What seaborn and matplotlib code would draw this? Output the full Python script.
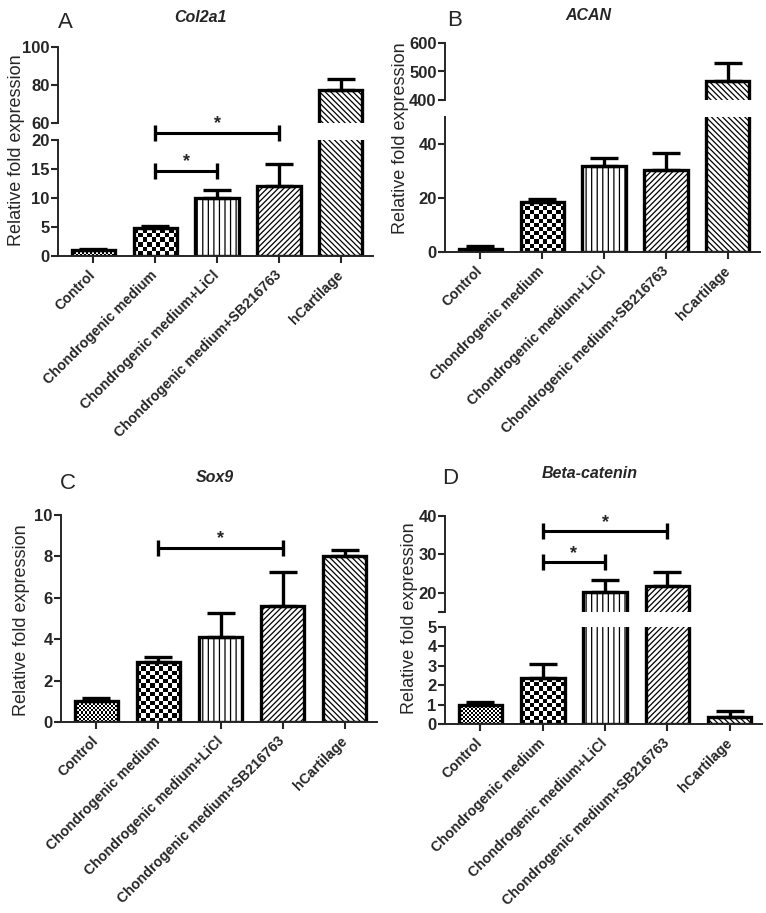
import numpy as np
import matplotlib
matplotlib.use("Agg")
import matplotlib.pyplot as plt
import seaborn as sns
import pandas as pd

# ---------------- data ----------------
categories = ["Control", "Chondrogenic medium", "Chondrogenic medium+LiCl",
              "Chondrogenic medium+SB216763", "hCartilage"]

col2a1_mean = [1.0, 4.8, 10.0, 12.0, 77.4]
col2a1_err = [0.2, 0.4, 1.4, 3.9, 5.8]

acan_mean = [1.2, 18.5, 32.0, 30.3, 468.0]
acan_err = [1.0, 1.0, 2.9, 6.2, 63.0]

sox9_mean = [1.0, 2.88, 4.12, 5.6, 8.0]
sox9_err = [0.14, 0.25, 1.13, 1.66, 0.3]

bcat_mean = [1.0, 2.35, 20.3, 21.8, 0.38]
bcat_err = [0.14, 0.74, 3.1, 3.5, 0.29]

# significance comparisons: (group i, group j, height)
col2a1_sig = [(1, 2, 14.7), (1, 3, 21.2)]
sox9_sig = [(1, 3, 8.4)]
bcat_sig = [(1, 2, 27.9), (1, 3, 36.0)]

fills = ["checker_fine", "checker", "|||", "//////", "\\\\\\\\\\\\"]

# ---------------- style ----------------
sns.set_style("ticks")
plt.rcParams["font.family"] = ["Liberation Sans", "DejaVu Sans"]
plt.rcParams["hatch.linewidth"] = 0.9
plt.rcParams["axes.linewidth"] = 1.4

W, H = 766, 913
fig = plt.figure(figsize=(W / 100, H / 100), dpi=100)


def axpx(left, right, top, bottom):
    return fig.add_axes([left / W, 1 - bottom / H, (right - left) / W, (bottom - top) / H])


def checker(ax, p, cell_px):
    ylo, yhi = ax.get_ylim()
    x0 = p.get_x()
    x1 = x0 + p.get_width()
    y0 = max(p.get_y(), ylo)
    y1 = min(p.get_y() + p.get_height(), yhi)
    if y1 <= y0:
        return
    d0 = ax.transData.transform((x0, y0))
    d1 = ax.transData.transform((x1, y1))
    nx = max(1, int(round((d1[0] - d0[0]) / cell_px)))
    ny = max(1, int(round((d1[1] - d0[1]) / cell_px)))
    img = np.add.outer(np.arange(ny), np.arange(nx)) % 2
    im = ax.imshow(img, cmap="gray", vmin=0, vmax=1, extent=[x0, x1, y0, y1],
                   origin="upper", interpolation="nearest", aspect="auto", zorder=0.9)
    im.set_clip_path(p)


def draw(ax, means, errs, ylim, yticks, ytlabels=None, bottom=True, sigs=()):
    df = pd.DataFrame({"group": categories, "value": means})
    sns.barplot(data=df, x="group", y="value", order=categories, ax=ax,
                color="white", edgecolor="black", linewidth=2.4, width=0.7,
                errorbar=None, saturation=1)
    ax.set_xlim(-0.57, 4.52)
    ax.set_ylim(*ylim)
    bars = list(ax.patches)[:len(categories)]
    centers = [p.get_x() + p.get_width() / 2 for p in bars]
    for p, f in zip(bars, fills):
        p.set_zorder(2)
        if f == "checker":
            p.set_facecolor("none")
            checker(ax, p, 4.3)
        elif f == "checker_fine":
            p.set_facecolor("none")
            checker(ax, p, 2.0)
        else:
            p.set_hatch(f)
    ax.errorbar(centers, means, yerr=[np.zeros(len(means)), errs], fmt="none",
                ecolor="black", elinewidth=2.4, capsize=10, capthick=2.4, zorder=3)
    ax.set_xlim(-0.57, 4.52)
    ax.set_ylim(*ylim)
    ax.set_yticks(yticks)
    if ytlabels is not None:
        ax.set_yticklabels(ytlabels)
    ax.tick_params(axis="y", direction="out", length=5, width=1.5, labelsize=12, pad=1)
    for lab in ax.get_yticklabels():
        lab.set_fontweight("bold")
    sns.despine(ax=ax, top=True, right=True, bottom=not bottom)
    ax.set_ylabel("")
    ax.set_xlabel("")
    if bottom:
        ax.tick_params(axis="x", direction="out", length=5, width=1.5, pad=7)
        ax.set_xticks(centers)
        ax.set_xticklabels(categories, rotation=45, ha="right", rotation_mode="anchor",
                           fontsize=10.2, fontweight="bold", va="center")
    else:
        ax.set_xticks([])
    for i, j, y in sigs:
        ax.plot([centers[i], centers[j]], [y, y], color="black", lw=2.2,
                marker="|", markersize=12, mew=2.4, clip_on=False, zorder=5)
        ax.annotate("*", xy=((centers[i] + centers[j]) / 2, y), xytext=(0, 0.5),
                    textcoords="offset points", ha="center", va="bottom",
                    fontsize=13, fontweight="bold", annotation_clip=False)
    ax.patch.set_alpha(0)


# Panel A (Col2a1) broken axis
a_up = axpx(58, 373, 47, 123)
a_lo = axpx(58, 373, 140, 256)
draw(a_up, col2a1_mean, col2a1_err, (60, 100), [60, 80, 100], bottom=False)
draw(a_lo, col2a1_mean, col2a1_err, (0, 20), [0, 5, 10, 15, 20], sigs=col2a1_sig)

# Panel B (ACAN) broken axis
b_up = axpx(445, 760, 43, 100)
b_lo = axpx(445, 760, 117, 252)
draw(b_up, acan_mean, acan_err, (400, 600), [400, 500, 600], bottom=False)
draw(b_lo, acan_mean, acan_err, (0, 50), [0, 20, 40])

# Panel C (Sox9)
c_ax = axpx(61, 377, 515, 722)
draw(c_ax, sox9_mean, sox9_err, (0, 10), [0, 2, 4, 6, 8, 10], sigs=sox9_sig)

# Panel D (Beta-catenin) broken axis
d_up = axpx(445, 762, 516, 612)
d_lo = axpx(445, 762, 627, 724)
draw(d_up, bcat_mean, bcat_err, (15, 40), [15, 20, 30, 40], ["", "20", "30", "40"],
     bottom=False, sigs=bcat_sig)
draw(d_lo, bcat_mean, bcat_err, (0, 5), [0, 1, 2, 3, 4, 5])


def ftext(x, y, s, **kw):
    fig.text(x / W, 1 - y / H, s, **kw)


for (lx, ly, letter), (tx, ty, title) in [
        ((65, 22, "A"), (200, 17, "Col2a1")),
        ((455, 20, "B"), (588, 15, "ACAN")),
        ((68, 483, "C"), (215, 478, "Sox9")),
        ((450, 478, "D"), (590, 473, "Beta-catenin"))]:
    ftext(lx, ly, letter, ha="center", va="center", fontsize=16)
    ftext(tx, ty, title, ha="center", va="center", fontsize=11.5,
          fontweight="bold", fontstyle="italic")

for x, y in [(17, 150), (400, 138), (22, 620), (410, 618)]:
    ftext(x, y, "Relative fold expression", rotation=90, ha="center", va="center",
          fontsize=13)

fig.savefig("out.png", dpi=100)
